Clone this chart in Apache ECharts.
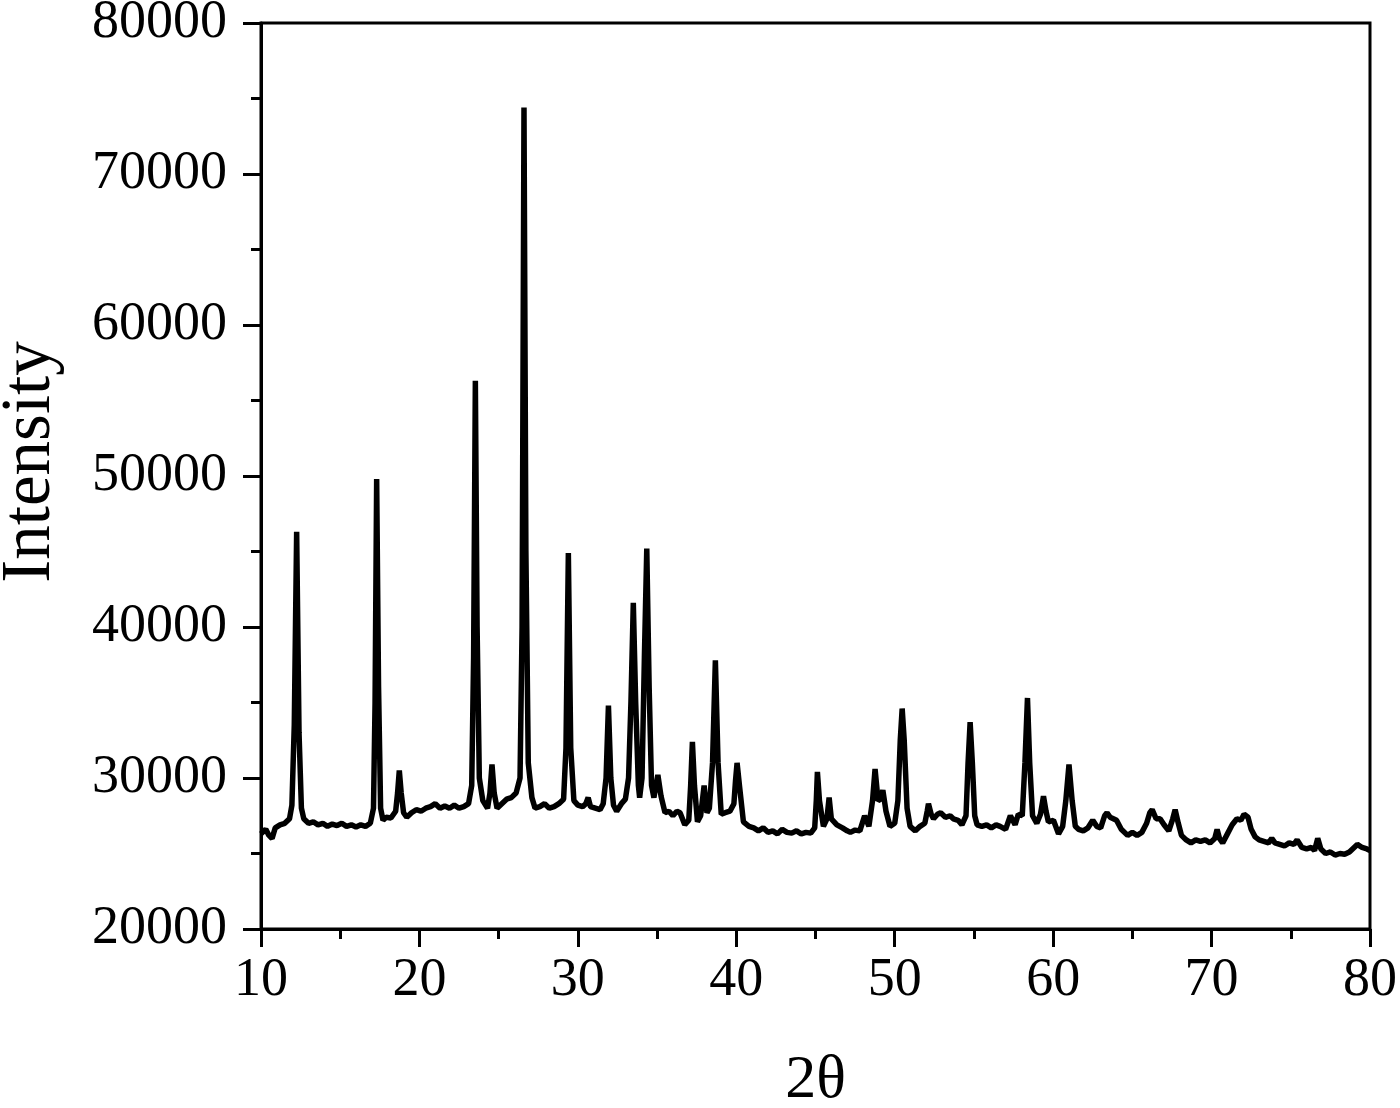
<!DOCTYPE html>
<html>
<head>
<meta charset="utf-8">
<title>XRD pattern</title>
<script src="https://cdn.jsdelivr.net/npm/echarts@6/dist/echarts.min.js"></script>
<style>
  html, body { margin: 0; padding: 0; background: #fff; }
  #chart { width: 1400px; height: 1108px; }
</style>
</head>
<body>
<div id="chart"></div>
<script>
// 2θ positions (degrees)
const twoTheta = [
  10.0, 10.3, 10.5, 10.7, 10.9, 11.2, 11.5, 11.8, 11.95, 12.1, 12.25, 12.4, 12.55, 12.7,
  13.0, 13.3, 13.6, 13.9, 14.2, 14.5, 14.8, 15.1, 15.4, 15.7, 16.0, 16.3, 16.6, 16.9,
  17.1, 17.2, 17.3, 17.42, 17.55, 17.7, 17.9, 18.2, 18.5, 18.62, 18.73, 18.85, 19.0, 19.2,
  19.5, 19.8, 20.1, 20.4, 20.7, 21.0, 21.3, 21.6, 21.9, 22.2, 22.5, 22.8, 23.1, 23.3,
  23.42, 23.53, 23.64, 23.78, 24.0, 24.3, 24.45, 24.58, 24.72, 24.9, 25.2, 25.5, 25.8, 26.1,
  26.35, 26.48, 26.6, 26.72, 26.87, 27.1, 27.3, 27.6, 27.9, 28.2, 28.5, 28.8, 29.1, 29.25,
  29.4, 29.55, 29.75, 30.0, 30.3, 30.5, 30.65, 30.8, 31.1, 31.4, 31.6, 31.78, 31.93, 32.08,
  32.25, 32.45, 32.75, 33.0, 33.2, 33.35, 33.5, 33.65, 33.82, 33.9, 34.05, 34.2, 34.35, 34.5,
  34.65, 34.8, 35.05, 35.25, 35.5, 35.75, 36.0, 36.25, 36.45, 36.75, 37.0, 37.12, 37.23, 37.36,
  37.55, 37.75, 37.97, 38.15, 38.3, 38.5, 38.68, 38.85, 39.05, 39.3, 39.6, 39.85, 39.95, 40.05,
  40.2, 40.45, 40.8, 41.1, 41.4, 41.7, 42.0, 42.3, 42.6, 42.9, 43.2, 43.5, 43.8, 44.1,
  44.4, 44.7, 44.95, 45.05, 45.12, 45.25, 45.5, 45.72, 45.86, 46.0, 46.35, 46.7, 47.0, 47.2,
  47.5, 47.8, 48.1, 48.37, 48.6, 48.76, 48.95, 49.1, 49.25, 49.45, 49.7, 50.0, 50.2, 50.35,
  50.47, 50.6, 50.78, 50.97, 51.3, 51.6, 51.9, 52.05, 52.13, 52.3, 52.45, 52.7, 52.9, 53.2,
  53.5, 53.7, 54.0, 54.24, 54.5, 54.63, 54.76, 54.9, 55.05, 55.2, 55.5, 55.8, 56.1, 56.4,
  56.65, 57.0, 57.3, 57.6, 57.8, 58.05, 58.22, 58.38, 58.52, 58.7, 58.97, 59.2, 59.39, 59.55,
  59.7, 60.02, 60.34, 60.6, 60.8, 61.0, 61.2, 61.4, 61.6, 61.9, 62.2, 62.5, 62.75, 63.0,
  63.25, 63.4, 63.6, 64.0, 64.3, 64.7, 65.0, 65.3, 65.6, 65.9, 66.1, 66.25, 66.5, 66.75,
  67.0, 67.3, 67.55, 67.7, 67.9, 68.1, 68.4, 68.7, 69.0, 69.3, 69.6, 69.9, 70.2, 70.35,
  70.5, 70.7, 71.0, 71.3, 71.6, 71.85, 72.05, 72.3, 72.5, 72.75, 73.0, 73.3, 73.6, 73.8,
  74.0, 74.3, 74.6, 74.9, 75.2, 75.4, 75.7, 76.0, 76.3, 76.5, 76.7, 76.9, 77.2, 77.5,
  77.8, 78.1, 78.4, 78.7, 79.0, 79.2, 79.5, 79.8, 80.0
];

// Intensity (counts) at each 2θ above
const intensity = [
  26300, 26600, 26200, 26000, 26700, 26900, 27000, 27300, 28200, 33500, 46300, 33000, 28000, 27300,
  27000, 27100, 26900, 27000, 26800, 26950, 26850, 27000, 26800, 26900, 26750, 26900, 26800, 27000,
  28000, 35000, 49800, 36000, 28000, 27200, 27400, 27350, 27800, 29000, 30500, 29000, 27700, 27400,
  27700, 27900, 27800, 28000, 28100, 28300, 28000, 28150, 28000, 28200, 28000, 28100, 28300, 29500,
  38000, 56300, 40000, 30000, 28500, 28000, 29000, 30900, 29000, 28000, 28300, 28600, 28700, 29000,
  30000, 40000, 74400, 45000, 31000, 28700, 28000, 28100, 28300, 28000, 28100, 28300, 28600, 32000,
  44900, 32000, 28500, 28200, 28100, 28300, 28700, 28100, 28000, 27900, 28300, 30000, 34800, 30000,
  28200, 27800, 28300, 28600, 30000, 35000, 41600, 35000, 29500, 28700, 30000, 38000, 45200, 36000,
  29500, 28700, 30200, 28800, 27700, 27800, 27500, 27800, 27700, 26900, 27200, 29500, 32400, 29500,
  27100, 27500, 29500, 27700, 28000, 31000, 37800, 31000, 27600, 27700, 27800, 28300, 29800, 31000,
  29500, 27100, 26800, 26700, 26500, 26700, 26400, 26500, 26300, 26600, 26400, 26350, 26500, 26300,
  26400, 26350, 26700, 28500, 30400, 28500, 26800, 27300, 28700, 27300, 26900, 26700, 26500, 26400,
  26550, 26500, 27500, 26800, 28500, 30600, 28500, 28600, 29200, 27800, 26800, 27000, 28500, 32500,
  34600, 32500, 28000, 26800, 26500, 26800, 27000, 27800, 28300, 27600, 27300, 27600, 27700, 27400,
  27500, 27300, 27200, 26900, 27500, 31000, 33700, 31000, 27500, 26900, 26800, 26900, 26700, 26900,
  26800, 26600, 27500, 26900, 27600, 27500, 31000, 35300, 31000, 27500, 27000, 27600, 28800, 27800,
  27100, 27200, 26300, 26800, 28500, 30900, 28500, 26800, 26600, 26500, 26700, 27200, 26800, 26700,
  27500, 27700, 27400, 27200, 26600, 26200, 26400, 26200, 26400, 27000, 27700, 27900, 27300, 27300,
  26900, 26500, 27300, 27900, 27000, 26200, 25900, 25700, 25900, 25800, 25900, 25700, 26000, 26600,
  26000, 25700, 26300, 26900, 27300, 27200, 27600, 27400, 26600, 26100, 25900, 25800, 25700, 26000,
  25700, 25600, 25500, 25700, 25600, 25900, 25400, 25300, 25400, 25200, 26000, 25300, 25000, 25100,
  24900, 25000, 24950, 25100, 25400, 25600, 25400, 25300, 25200
];

const seriesData = twoTheta.map((t, i) => [t, intensity[i]])

const chart = echarts.init(document.getElementById('chart'))

const labelFont = {
  fontFamily: 'Liberation Serif',
  fontSize: 54,
  color: '#000',
}

const option = {
  animation: false,
  backgroundColor: '#fff',
  grid: {
    left: 261,
    right: 30,
    top: 23,
    bottom: 179,
    containLabel: false,
    outerBoundsMode: 'none',
    show: true,
    borderColor: '#000',
    borderWidth: 3,
    backgroundColor: 'transparent',
  },
  xAxis: {
    type: 'value',
    min: 10,
    max: 80,
    interval: 10,
    name: '2θ',
    nameLocation: 'middle',
    nameGap: 121,
    nameTextStyle: { fontFamily: 'Liberation Serif', fontSize: 62, color: '#000' },
    axisLine: { show: true, onZero: false, lineStyle: { color: '#000', width: 3 } },
    axisTick: { show: true, inside: false, length: 18, lineStyle: { color: '#000', width: 3 } },
    minorTick: { show: true, splitNumber: 2, length: 10, lineStyle: { color: '#000', width: 3 } },
    axisLabel: { ...labelFont, margin: 25, formatter: (v) => String(v) },
    splitLine: { show: false },
  },
  yAxis: {
    type: 'value',
    min: 20000,
    max: 80000,
    interval: 10000,
    name: 'Intensity',
    nameLocation: 'middle',
    nameGap: 196,
    nameTextStyle: { fontFamily: 'Liberation Serif', fontSize: 69, color: '#000', padding: [0, 0, 0, 28] },
    axisLine: { show: true, onZero: false, lineStyle: { color: '#000', width: 3 } },
    axisTick: { show: true, inside: false, length: 18, lineStyle: { color: '#000', width: 3 } },
    minorTick: { show: true, splitNumber: 2, length: 10, lineStyle: { color: '#000', width: 3 } },
    axisLabel: { ...labelFont, margin: 34, formatter: (v) => String(v) },
    splitLine: { show: false },
  },
  series: [
    {
      type: 'line',
      data: seriesData,
      showSymbol: false,
      symbol: 'none',
      lineStyle: { color: '#000', width: 5.5 },
      clip: true,
    },
  ],
}

chart.setOption(option)
</script>
</body>
</html>
